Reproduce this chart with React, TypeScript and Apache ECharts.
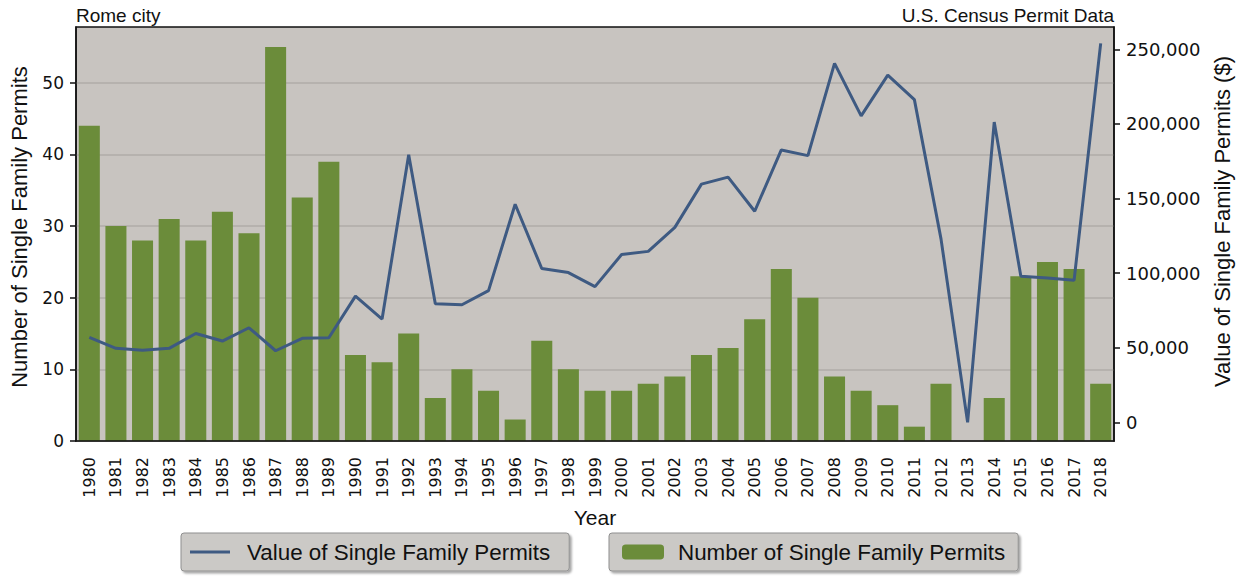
import React, { useEffect, useRef } from "react";
import * as echarts from "echarts";

const years = [
  "1980", "1981", "1982", "1983", "1984", "1985", "1986", "1987", "1988", "1989",
  "1990", "1991", "1992", "1993", "1994", "1995", "1996", "1997", "1998", "1999",
  "2000", "2001", "2002", "2003", "2004", "2005", "2006", "2007", "2008", "2009",
  "2010", "2011", "2012", "2013", "2014", "2015", "2016", "2017", "2018",
];

const permitCounts = [
  44, 30, 28, 31, 28, 32, 29, 55, 34, 39,
  12, 11, 15, 6, 10, 7, 3, 14, 10, 7,
  7, 8, 9, 12, 13, 17, 24, 20, 9, 7,
  5, 2, 8, 0, 6, 23, 25, 24, 8,
];

const permitValues = [
  57000, 49600, 48400, 49600, 59600, 54500, 63400, 48000, 56300, 56700,
  84600, 69200, 179300, 79500, 78800, 88300, 146200, 103100, 100400, 91000,
  112500, 114600, 130700, 159700, 164400, 141500, 182600, 178800, 240600, 205400,
  232700, 216300, 123000, 0, 201300, 97900, 96800, 95200, 254000,
];

const leftTicks = [0, 10, 20, 30, 40, 50];
const rightTicks = [0, 50000, 100000, 150000, 200000, 250000];

const LINE_NAME = "Value of Single Family Permits";
const BAR_NAME = "Number of Single Family Permits";

export default function App() {
  const ref = useRef<HTMLDivElement>(null);

  useEffect(() => {
    document.body.style.margin = "0";
    if (!ref.current) return;
    const chart = echarts.init(ref.current, undefined, { renderer: "svg" });
    const tickFont = "DejaVu Sans";
    const textFont = "Liberation Sans";
    const legendBox = {
      top: 533,
      backgroundColor: "#cbc9c6",
      borderColor: "#8f8f8f",
      borderWidth: 1,
      borderRadius: 3,
      shadowColor: "rgba(0,0,0,0.35)",
      shadowOffsetX: 2,
      shadowOffsetY: 2,
      shadowBlur: 2,
      textStyle: { fontFamily: textFont, fontSize: 22.4, color: "#111" },
    };
    chart.setOption({
      animation: false,
      backgroundColor: "#ffffff",
      title: [
        {
          text: "Rome city",
          left: 76,
          top: 6,
          padding: 0,
          textStyle: { fontFamily: textFont, fontSize: 19, fontWeight: "normal", color: "#111" },
        },
        {
          text: "U.S. Census Permit Data",
          right: 128,
          top: 6,
          padding: 0,
          textStyle: { fontFamily: textFont, fontSize: 19, fontWeight: "normal", color: "#111" },
        },
      ],
      grid: {
        left: 76,
        right: 128,
        top: 27,
        bottom: 135,
        show: true,
        backgroundColor: "#c8c4c0",
        borderColor: "#111",
        borderWidth: 1.5,
      },
      legend: [
        {
          ...legendBox,
          data: [{ name: LINE_NAME, icon: "rect" }],
          left: 181,
          padding: [8, 19, 8, 9],
          itemWidth: 40,
          itemHeight: 3,
          itemGap: 10,
          itemStyle: { color: "#3e5a82" },
          textStyle: { ...legendBox.textStyle, padding: [0, 0, 0, 12] },
        },
        {
          ...legendBox,
          data: [BAR_NAME],
          left: 609,
          padding: [8, 13, 8, 13],
          itemWidth: 42,
          itemHeight: 15,
          itemGap: 10,
          textStyle: { ...legendBox.textStyle, padding: [0, 0, 0, 9] },
        },
      ],
      xAxis: {
        type: "category",
        data: years,
        z: 5,
        name: "Year",
        nameLocation: "middle",
        nameGap: 66,
        nameTextStyle: { fontFamily: textFont, fontSize: 21, color: "#111" },
        axisLine: { lineStyle: { color: "#111", width: 1.5 } },
        axisTick: { alignWithLabel: true, length: 6, lineStyle: { color: "#111", width: 1.5 } },
        axisLabel: {
          rotate: 90,
          interval: 0,
          fontFamily: tickFont,
          fontSize: 16,
          color: "#111",
          margin: 16,
        },
      },
      yAxis: [
        {
          type: "value",
          min: 0,
          max: 57.8,
          interval: 10,
          position: "left",
          name: "Number of Single Family Permits",
          nameLocation: "middle",
          nameGap: 46,
          nameTextStyle: { fontFamily: textFont, fontSize: 22, color: "#111", padding: [0, 0, 0, 14] },
          axisLine: { show: true, lineStyle: { color: "#111", width: 1.5 } },
          axisTick: { show: true, length: 6, lineStyle: { color: "#111", width: 1.5 }, customValues: leftTicks },
          axisLabel: { fontFamily: tickFont, fontSize: 17, color: "#111", margin: 12, customValues: leftTicks },
          splitLine: { show: true, lineStyle: { color: "#b0aca8", width: 1.5 } },
        },
        {
          type: "value",
          min: -12500,
          max: 265000,
          position: "right",
          name: "Value of Single Family Permits ($)",
          nameLocation: "middle",
          nameGap: 97,
          nameRotate: 90,
          nameTextStyle: { fontFamily: textFont, fontSize: 22, color: "#111", padding: [0, 0, 0, 25] },
          axisLine: { show: true, lineStyle: { color: "#111", width: 1.5 } },
          axisTick: { show: true, length: 6, lineStyle: { color: "#111", width: 1.5 }, customValues: rightTicks },
          axisLabel: {
            fontFamily: tickFont,
            fontSize: 18,
            color: "#111",
            margin: 12,
            customValues: rightTicks,
            formatter: (v: number) => v.toLocaleString("en-US"),
          },
          splitLine: { show: false },
        },
      ],
      series: [
        {
          name: BAR_NAME,
          type: "bar",
          yAxisIndex: 0,
          data: permitCounts,
          barCategoryGap: "21%",
          itemStyle: { color: "#6b8c3a" },
          z: 2,
        },
        {
          name: LINE_NAME,
          type: "line",
          yAxisIndex: 1,
          data: permitValues,
          symbol: "none",
          lineStyle: { color: "#3e5a82", width: 3 },
          itemStyle: { color: "#3e5a82" },
          z: 3,
        },
      ],
    });
    return () => chart.dispose();
  }, []);

  return <div ref={ref} style={{ width: 1242, height: 576 }} />;
}
